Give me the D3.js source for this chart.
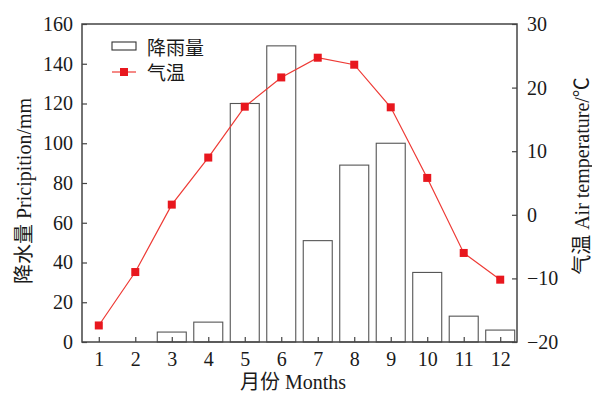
<!DOCTYPE html>
<html>
<head>
<meta charset="utf-8">
<script src="https://cdn.jsdelivr.net/npm/d3@7"></script>
<style>
  html, body { margin: 0; padding: 0; background: #fff; }
  svg { display: block; }
  text { font-family: "Liberation Serif", "Noto Sans CJK SC", serif; fill: #1a1a1a; }
</style>
</head>
<body>
<svg id="chart" width="592" height="394"></svg>
<script>
// Monthly precipitation (mm) and mean air temperature (°C)
const months = [1, 2, 3, 4, 5, 6, 7, 8, 9, 10, 11, 12];
const precipitation = [0, 0, 5, 10, 120, 149, 51, 89, 100, 35, 13, 6];
const temperature = [-17.4, -9.0, 1.6, 9.0, 17.0, 21.6, 24.7, 23.6, 16.9, 5.8, -6.0, -10.2];
const precipTicks = [0, 20, 40, 60, 80, 100, 120, 140, 160];
const tempTicks = [-20, -10, 0, 10, 20, 30];

const svg = d3.select("#chart");
const plotL = 82, plotR = 517, plotT = 24, plotB = 342;
const frameColor = "#444";

const x = d3.scaleLinear().domain([0.54, 12.46]).range([plotL, plotR]);
const yP = d3.scaleLinear().domain([0, 160]).range([plotB, plotT]);
const yT = d3.scaleLinear().domain([-20, 30]).range([plotB, plotT]);
const barW = 29;

// Precipitation bars
svg.append("g").selectAll("rect")
  .data(months.map((m, i) => ({ m, v: precipitation[i] })).filter(d => d.v > 0))
  .join("rect")
  .attr("x", d => x(d.m) - barW / 2)
  .attr("y", d => yP(d.v))
  .attr("width", barW)
  .attr("height", d => yP(0) - yP(d.v))
  .attr("fill", "#fff")
  .attr("stroke", "#555")
  .attr("stroke-width", 1.1);

// Temperature line with square markers
const tData = months.map((m, i) => ({ m, v: temperature[i] }));
svg.append("path")
  .datum(tData)
  .attr("fill", "none")
  .attr("stroke", "#ee3a35")
  .attr("stroke-width", 1.2)
  .attr("d", d3.line().x(d => x(d.m)).y(d => yT(d.v)));
svg.append("g").selectAll("rect")
  .data(tData)
  .join("rect")
  .attr("x", d => x(d.m) - 4)
  .attr("y", d => yT(d.v) - 4)
  .attr("width", 8)
  .attr("height", 8)
  .attr("fill", "#e8171e");

// Axes with inward ticks
const fmt = v => v < 0 ? "\u2212" + Math.abs(v) : String(v);
const axL = svg.append("g").attr("transform", `translate(${plotL},0)`)
  .call(d3.axisLeft(yP).tickValues(precipTicks).tickSize(-5).tickPadding(9));
const axR = svg.append("g").attr("transform", `translate(${plotR},0)`)
  .call(d3.axisRight(yT).tickValues(tempTicks).tickSize(-5).tickPadding(10).tickFormat(fmt));
const axB = svg.append("g").attr("transform", `translate(0,${plotB})`)
  .call(d3.axisBottom(x).tickValues(months).tickSize(-5).tickPadding(10));
svg.selectAll(".domain").remove();
[axL, axR, axB].forEach(g => {
  g.selectAll("line").attr("stroke", frameColor).attr("stroke-width", 1.2);
  g.selectAll("text").attr("font-size", 20).attr("fill", "#1a1a1a")
    .style("font-family", '"Liberation Serif", serif');
});
svg.append("rect")
  .attr("x", plotL).attr("y", plotT)
  .attr("width", plotR - plotL).attr("height", plotB - plotT)
  .attr("fill", "none").attr("stroke", frameColor).attr("stroke-width", 1.5);

// Axis titles
svg.append("text")
  .attr("transform", `translate(31,${(plotT + plotB) / 2 + 8}) rotate(-90)`)
  .attr("text-anchor", "middle").attr("font-size", 20)
  .text("降水量 Pricipition/mm");
svg.append("text")
  .attr("transform", `translate(589,${(plotT + plotB) / 2 - 7}) rotate(-90)`)
  .attr("text-anchor", "middle").attr("font-size", 20)
  .text("气温 Air temperature/℃");
svg.append("text")
  .attr("x", 293).attr("y", 389)
  .attr("text-anchor", "middle").attr("font-size", 20)
  .text("月份 Months");

// Legend
const lg = svg.append("g");
lg.append("rect").attr("x", 112).attr("y", 42).attr("width", 24).attr("height", 8)
  .attr("fill", "#fff").attr("stroke", "#333").attr("stroke-width", 1.1);
lg.append("text").attr("x", 147).attr("y", 55).attr("font-size", 19).text("降雨量");
lg.append("line").attr("x1", 112).attr("x2", 136).attr("y1", 72).attr("y2", 72)
  .attr("stroke", "#ee3a35").attr("stroke-width", 1.2);
lg.append("rect").attr("x", 120).attr("y", 68).attr("width", 8).attr("height", 8).attr("fill", "#e8171e");
lg.append("text").attr("x", 147).attr("y", 80).attr("font-size", 19).text("气温");
</script>
</body>
</html>
